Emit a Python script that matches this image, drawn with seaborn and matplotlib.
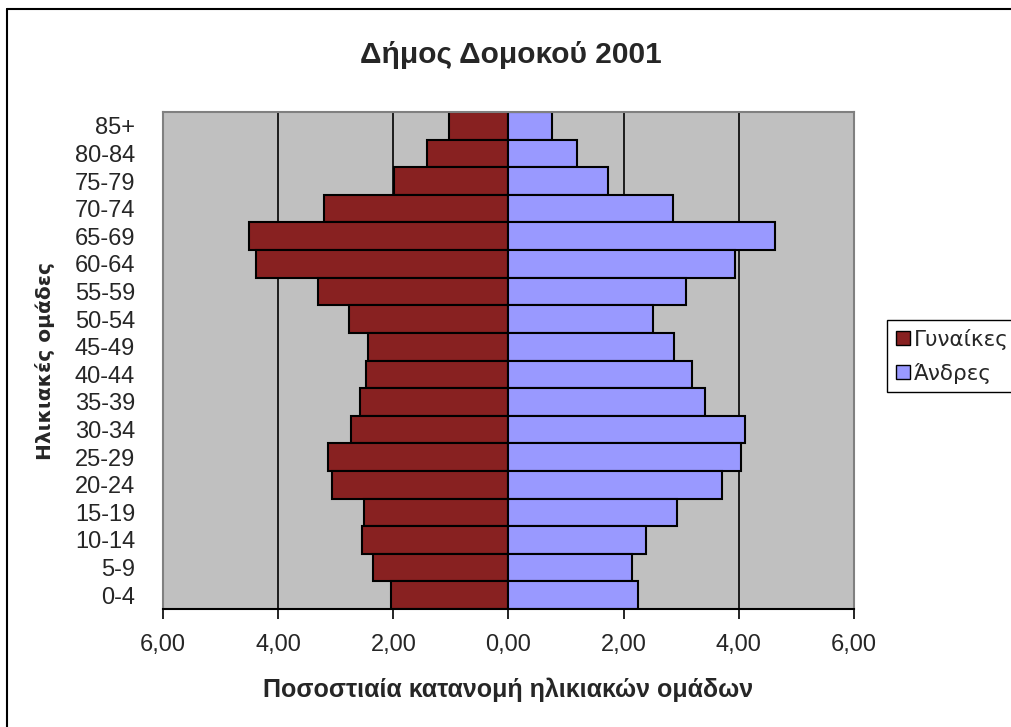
import numpy as np
import pandas as pd
import seaborn as sns
import matplotlib.pyplot as plt
from matplotlib.patches import Patch
from matplotlib.lines import Line2D
from matplotlib.ticker import FuncFormatter


age_groups = ["85+", "80-84", "75-79", "70-74", "65-69", "60-64", "55-59", "50-54",
              "45-49", "40-44", "35-39", "30-34", "25-29", "20-24", "15-19",
              "10-14", "5-9", "0-4"]
women = [1.03, 1.42, 1.99, 3.21, 4.50, 4.39, 3.30, 2.77, 2.44, 2.48, 2.58,
         2.74, 3.14, 3.07, 2.51, 2.54, 2.35, 2.04]
men = [0.76, 1.19, 1.72, 2.85, 4.63, 3.94, 3.08, 2.51, 2.87, 3.18, 3.41,
       4.10, 4.03, 3.71, 2.92, 2.38, 2.15, 2.25]

df = pd.DataFrame({"age": age_groups, "women": women, "men": men})
df["women_neg"] = -df["women"]

red = "#882121"
blue = "#9999ff"

sns.set_style("white")
plt.rcParams["font.family"] = ["Liberation Sans", "DejaVu Sans"]

W, H = 1012, 727
fig = plt.figure(figsize=(W / 100, H / 100), dpi=100)
ax = fig.add_axes([163 / W, 118 / H, 691 / W, 497 / H])
ax.set_facecolor("#c0c0c0")

for x in [-4, -2, 2, 4]:
    ax.axvline(x, color="black", lw=1.2, zorder=0)

sns.barplot(data=df, y="age", x="women_neg", order=age_groups, color=red,
            width=1.0, edgecolor="black", linewidth=1.5, saturation=1, ax=ax, zorder=2)
sns.barplot(data=df, y="age", x="men", order=age_groups, color=blue,
            width=1.0, edgecolor="black", linewidth=1.5, saturation=1, ax=ax, zorder=2)

ax.set_xlim(-6, 6)
ax.set_ylim(len(age_groups) - 0.5, -0.5)
ax.set_xticks([-6, -4, -2, 0, 2, 4, 6])
ax.xaxis.set_major_formatter(FuncFormatter(lambda v, p: f"{abs(v):.2f}".replace(".", ",")))
ax.tick_params(axis="x", direction="out", length=7, width=1.2, color="black",
               labelsize=17, pad=11, bottom=True)
ax.tick_params(axis="y", length=0, labelsize=17, pad=20)

for side in ["left", "top", "right"]:
    ax.spines[side].set_color("#808080")
    ax.spines[side].set_linewidth(1.5)
ax.spines["bottom"].set_color("black")
ax.spines["bottom"].set_linewidth(1.5)

ax.set_xlabel("Ποσοστιαία κατανομή ηλικιακών ομάδων", fontsize=18,
              fontweight="bold", va="center")
ax.xaxis.set_label_coords(0.5, (609 - 690) / 497)
ax.set_ylabel("Ηλικιακές ομάδες", fontsize=14.5, fontweight="bold",
              family="DejaVu Sans", va="center")
ax.yaxis.set_label_coords((45 - 163) / 691, 0.5)

fig.text(511 / W, 1 - 55 / H, "Δήμος Δομοκού 2001", ha="center", va="center",
         fontsize=21.5, fontweight="bold")

handles = [Patch(facecolor=red, edgecolor="black", label="Γυναίκες"),
           Patch(facecolor=blue, edgecolor="black", label="Άνδρες")]
fig.legend(handles=handles, loc="upper left", bbox_to_anchor=(887 / W, 1 - 320 / H),
           frameon=True, fancybox=False, edgecolor="black", framealpha=1,
           prop={"family": "DejaVu Sans", "size": 15.5}, handlelength=0.65,
           handleheight=0.65, handletextpad=0.2, borderpad=0.4,
           labelspacing=0.6, borderaxespad=0)

# chart border, only the top and left sides are inside the picture
fig.add_artist(Line2D([7 / W, 1.0], [1 - 9 / H, 1 - 9 / H], color="black", lw=1.5,
                      transform=fig.transFigure))
fig.add_artist(Line2D([7 / W, 7 / W], [0.0, 1 - 9 / H], color="black", lw=1.5,
                      transform=fig.transFigure))

fig.savefig("out.png", dpi=100)
